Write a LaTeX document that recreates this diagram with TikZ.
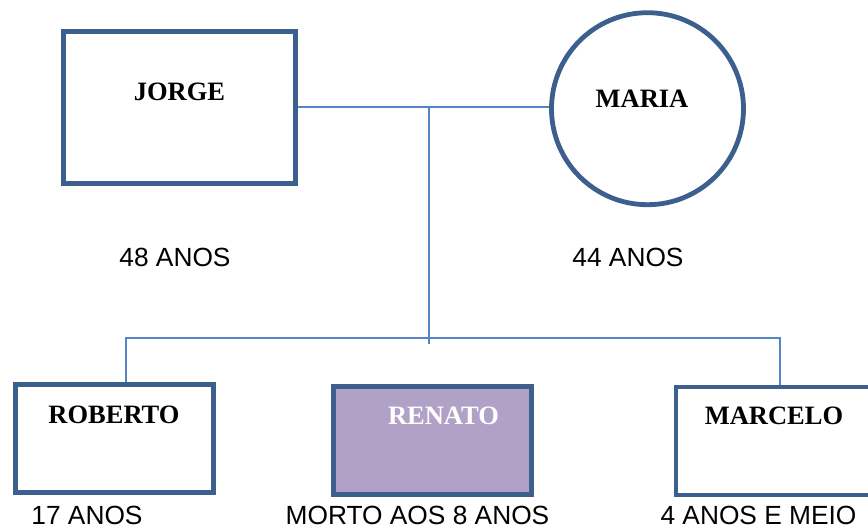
\documentclass[tikz,border=0pt]{standalone}
\usepackage{fontspec}
\setmainfont{Liberation Serif}
\newfontfamily\arialf{Liberation Sans}
\definecolor{boxblue}{HTML}{3C5F8E}
\definecolor{linkblue}{HTML}{5585C4}
\definecolor{deadfill}{HTML}{B2A1C7}
\begin{document}
\begin{tikzpicture}[x=1pt,y=-1pt,
  person/.style={draw=boxblue,line width=4.8pt,fill=white,inner sep=0pt,minimum width=198pt,minimum height=108pt},
  namelbl/.style={anchor=base,inner sep=0pt,font=\fontsize{26.5}{30}\selectfont\bfseries},
  agelbl/.style={anchor=base,inner sep=0pt,text depth=0pt,font=\arialf\fontsize{26.3}{30}\selectfont},
  link/.style={draw=linkblue,line width=2pt}]
\useasboundingbox (0,0) rectangle (868,531);
% parents
\node[person,minimum width=232pt,minimum height=151.5pt] (jorge) at (179.5,107.5) {};
\node[person,circle,minimum size=192pt] (maria) at (647.5,108.7) {};
\coordinate (hub) at (429.3,106.7);
\coordinate (hubend) at (429.3,344);
\coordinate (busL) at (125.7,338);
\coordinate (busR) at (780,338);
% children
\node[person] (roberto) at (114.7,438.5) {};
\node[person,fill=deadfill] (renato) at (432.7,440.7) {};
\node[person] (marcelo) at (775,441) {};
% connectors
\draw[link] (jorge.east |- hub) -- (hub) -- (hub -| maria.west);
\draw[link] (hub) -- (hubend);
\draw[link] (roberto.north -| busL) -- (busL) -- (busR) -- (marcelo.north -| busR);
% names
\node[namelbl] (tjorge) at (179.5,100) {JORGE};
\node[namelbl] (tmaria) at (642,107) {MARIA};
\node[namelbl] (troberto) at (114,423) {ROBERTO};
\node[namelbl,text=white] (trenato) at (443.5,424) {RENATO};
\node[namelbl] (tmarcelo) at (774,424) {MARCELO};
% ages
\node[agelbl] (a1) at (175,266) {48 ANOS};
\node[agelbl] (a2) at (628,266) {44 ANOS};
\node[agelbl] (a3) at (87,524.5) {17 ANOS};
\node[agelbl] (a4) at (417.5,524.5) {MORTO AOS 8 ANOS};
\node[agelbl] (a5) at (758.5,524.5) {4 ANOS E MEIO};
\end{tikzpicture}
\end{document}
